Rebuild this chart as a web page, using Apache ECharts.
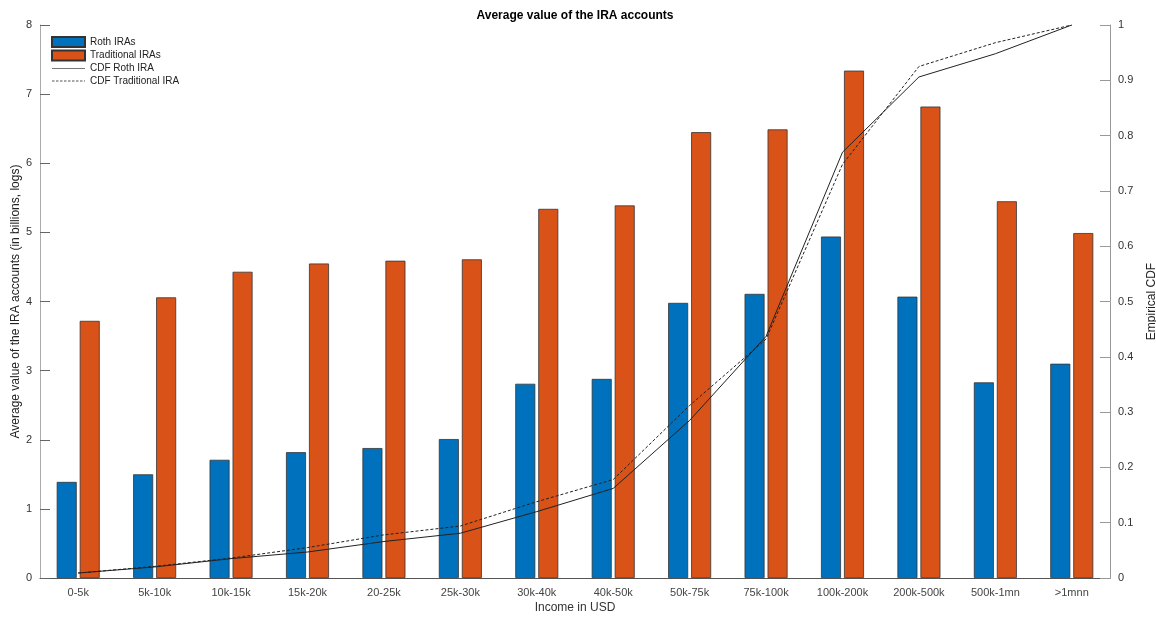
<!DOCTYPE html>
<html>
<head>
<meta charset="utf-8">
<script src="https://cdn.jsdelivr.net/npm/echarts@6/dist/echarts.min.js"></script>
<style>
html,body{margin:0;padding:0;background:#fff;}
#c{width:1156px;height:619px;}
</style>
</head>
<body>
<div id="c"></div>
<script>
const categories = ['0-5k','5k-10k','10k-15k','15k-20k','20-25k','25k-30k','30k-40k','40k-50k','50k-75k','75k-100k','100k-200k','200k-500k','500k-1mn','>1mnn'];
const rothValues = [1.39, 1.50, 1.71, 1.82, 1.88, 2.01, 2.81, 2.88, 3.98, 4.11, 4.94, 4.07, 2.83, 3.10];
const tradValues = [3.72, 4.06, 4.43, 4.55, 4.59, 4.61, 5.34, 5.39, 6.45, 6.49, 7.34, 6.82, 5.45, 4.99];
const cdfRoth = [0.009, 0.02, 0.035, 0.047, 0.066, 0.081, 0.12, 0.162, 0.285, 0.437, 0.77, 0.906, 0.948, 1.0];
const cdfTrad = [0.009, 0.021, 0.036, 0.055, 0.078, 0.094, 0.138, 0.178, 0.312, 0.432, 0.748, 0.925, 0.968, 1.0];
const leftTicks = [0, 1, 2, 3, 4, 5, 6, 7, 8];
const rightTicks = [0, 0.1, 0.2, 0.3, 0.4, 0.5, 0.6, 0.7, 0.8, 0.9, 1];

const font = 'Liberation Sans, Arial, sans-serif';
const solidIcon = 'path://M0,0H33V1H0Z';
const dashedIcon = 'path://M0,0h2.5v1h-2.5zM4,0h2.5v1h-2.5zM8,0h2.5v1h-2.5zM12,0h2.5v1h-2.5zM16,0h2.5v1h-2.5zM20,0h2.5v1h-2.5zM24,0h2.5v1h-2.5zM28,0h2.5v1h-2.5zM32,0h1v1h-1z';

const chart = echarts.init(document.getElementById('c'), null, {renderer: 'canvas'});
chart.setOption({
  animation: false,
  backgroundColor: '#fff',
  textStyle: {fontFamily: font},
  title: {
    text: 'Average value of the IRA accounts',
    left: 575, top: 10, textAlign: 'center', padding: 0,
    textStyle: {fontFamily: font, fontSize: 12, fontWeight: 'bold', color: '#000'}
  },
  legend: {
    orient: 'vertical', left: 51, top: 36, padding: 0,
    itemWidth: 33, itemHeight: 10, itemGap: 1.5,
    textStyle: {fontFamily: font, fontSize: 10, color: '#222', lineHeight: 11},
    data: [
      {name: 'Roth IRAs', icon: 'rect'},
      {name: 'Traditional IRAs', icon: 'rect'},
      {name: 'CDF Roth IRA', icon: solidIcon, itemStyle: {color: '#777', borderWidth: 0}},
      {name: 'CDF Traditional IRA', icon: dashedIcon, itemStyle: {color: '#555', borderWidth: 0}}
    ]
  },
  grid: {left: 40, right: 46, top: 25, bottom: 41, containLabel: false, outerBoundsMode: 'none'},
  xAxis: {
    type: 'category', data: categories,
    name: 'Income in USD', nameLocation: 'middle', nameGap: 24, nameMoveOverlap: false,
    nameTextStyle: {fontFamily: font, fontSize: 12, color: '#333'},
    axisLine: {lineStyle: {color: '#555', width: 1}},
    axisTick: {inside: true, length: 10, alignWithLabel: true, lineStyle: {color: '#aaa'}},
    axisLabel: {fontFamily: font, fontSize: 11, color: '#444', margin: 9}
  },
  yAxis: [
    {
      type: 'value', min: 0, max: 8, interval: 1,
      name: 'Average value of the IRA accounts (in billions, logs)',
      nameLocation: 'middle', nameGap: 18, nameRotate: 90, nameMoveOverlap: false,
      nameTextStyle: {fontFamily: font, fontSize: 12, color: '#222'},
      axisLine: {show: true, lineStyle: {color: '#aaa'}},
      axisTick: {show: true, inside: true, length: 10, lineStyle: {color: '#666'}},
      axisLabel: {fontFamily: font, fontSize: 11, color: '#333', margin: 8,
        formatter: v => leftTicks.includes(v) ? String(v) : ''},
      splitLine: {show: false}
    },
    {
      type: 'value', min: 0, max: 1, interval: 0.1,
      name: 'Empirical CDF', nameLocation: 'middle', nameGap: 36, nameRotate: 90, nameMoveOverlap: false,
      nameTextStyle: {fontFamily: font, fontSize: 12, color: '#222'},
      axisLine: {show: true, lineStyle: {color: '#999'}},
      axisTick: {show: true, inside: true, length: 10, lineStyle: {color: '#999'}},
      axisLabel: {fontFamily: font, fontSize: 11, color: '#333', margin: 8,
        formatter: v => { const r = Math.round(v * 10) / 10; return rightTicks.includes(r) ? String(r) : ''; }},
      splitLine: {show: false}
    }
  ],
  series: [
    {
      name: 'Roth IRAs', type: 'bar', data: rothValues, barWidth: 20, barGap: '15%',
      itemStyle: {color: '#0072BD', borderColor: '#333', borderWidth: 0.8}
    },
    {
      name: 'Traditional IRAs', type: 'bar', data: tradValues, barWidth: 20,
      itemStyle: {color: '#D95319', borderColor: '#333', borderWidth: 0.8}
    },
    {
      name: 'CDF Roth IRA', type: 'line', yAxisIndex: 1, data: cdfRoth,
      symbol: 'none', lineStyle: {color: '#222', width: 1, type: 'solid'},
      itemStyle: {color: '#222'}, z: 5
    },
    {
      name: 'CDF Traditional IRA', type: 'line', yAxisIndex: 1, data: cdfTrad,
      symbol: 'none', lineStyle: {color: '#222', width: 1, type: [3, 2]},
      itemStyle: {color: '#222'}, z: 5
    }
  ]
});
</script>
</body>
</html>
